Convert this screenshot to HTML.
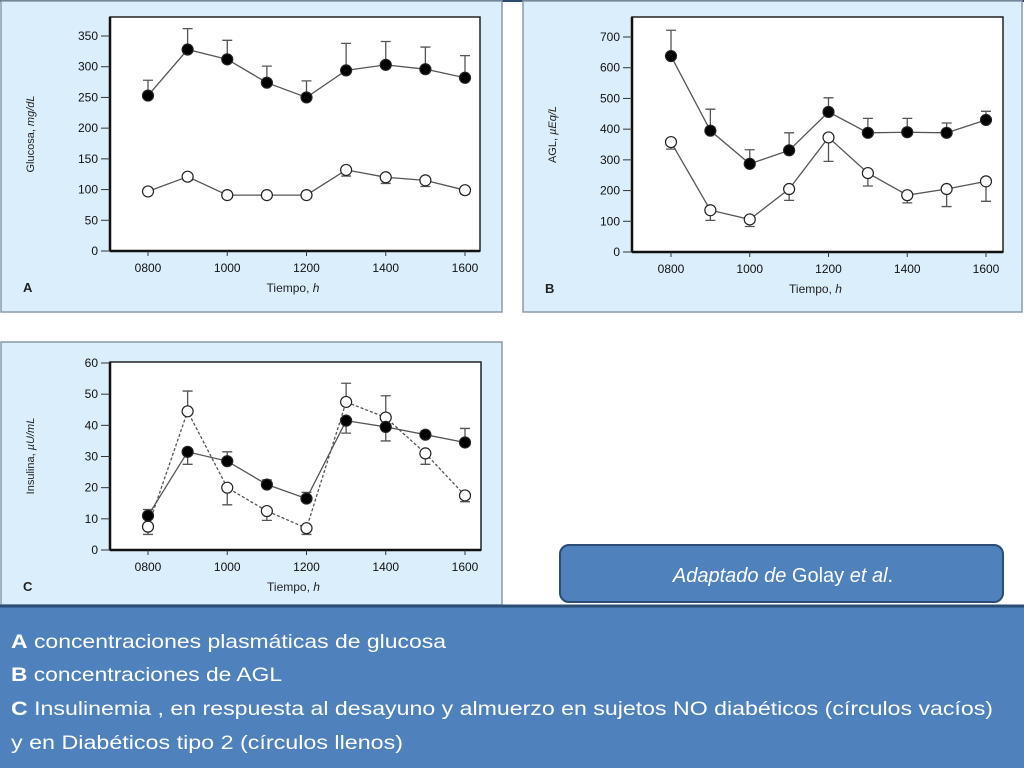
<!DOCTYPE html>
<html><head><meta charset="utf-8"><style>
html,body{margin:0;padding:0;background:#fff;}
svg{display:block;font-family:"Liberation Sans",sans-serif;}
</style></head><body>
<svg id="root" width="1024" height="768" viewBox="0 0 1024 768">
  <rect x="0" y="0" width="1024" height="768" fill="#ffffff"/>
  <line x1="0" y1="1" x2="1024" y2="1" stroke="#2e4a6e" stroke-width="2"/>
  <g id="panelA"></g>
  <g id="panelB"></g>
  <g id="panelC"></g>

  <g>
    <rect x="560" y="545" width="443" height="57" rx="9" fill="#4f81bd" stroke="#2c4d75" stroke-width="2"/>
    <text x="783" y="582" text-anchor="middle" fill="#fff" font-size="20"><tspan font-style="italic">Adaptado de</tspan> Golay <tspan font-style="italic">et al</tspan>.</text>
  </g>
  <g>
    <rect x="0" y="606" width="1024" height="162" fill="#4f81bd"/>
    <line x1="0" y1="606" x2="1024" y2="606" stroke="#2c4d75" stroke-width="3"/>
    <text x="11" y="648" fill="#fff" font-size="19.5" textLength="435" lengthAdjust="spacingAndGlyphs"><tspan font-weight="bold">A</tspan> concentraciones plasmáticas de glucosa</text>
    <text x="11" y="681" fill="#fff" font-size="19.5" textLength="271" lengthAdjust="spacingAndGlyphs"><tspan font-weight="bold">B</tspan> concentraciones de AGL</text>
    <text x="11" y="715" fill="#fff" font-size="19.5" textLength="982" lengthAdjust="spacingAndGlyphs"><tspan font-weight="bold">C</tspan> Insulinemia , en respuesta al desayuno y almuerzo en sujetos NO diabéticos  (círculos vacíos)</text>
    <text x="11" y="749" fill="#fff" font-size="19.5" textLength="392" lengthAdjust="spacingAndGlyphs">y en Diabéticos tipo 2 (círculos llenos)</text>
  </g>
</svg>
<script>
const hours = [800, 900, 1000, 1100, 1200, 1300, 1400, 1500, 1600];
const xTickLabels = ["0800", "1000", "1200", "1400", "1600"];
const xTickValues = [800, 1000, 1200, 1400, 1600];

const glucoseTicks = [0, 50, 100, 150, 200, 250, 300, 350];
const glucoseDiabetic = [253, 328, 312, 274, 250, 294, 303, 296, 282];
const glucoseDiabeticErr = [278, 362, 343, 301, 277, 338, 341, 332, 318];
const glucoseNormal = [97, 121, 91, 91, 91, 132, 120, 115, 99];
const glucoseNormalErr = [92, 115, 86, 86, 86, 122, 110, 105, 93];

const aglTicks = [0, 100, 200, 300, 400, 500, 600, 700];
const aglDiabetic = [638, 395, 287, 331, 456, 388, 390, 388, 430];
const aglDiabeticErr = [722, 465, 333, 388, 502, 435, 435, 420, 458];
const aglNormal = [358, 136, 106, 205, 373, 257, 185, 205, 230];
const aglNormalErr = [335, 103, 83, 168, 295, 215, 160, 148, 165];

const insulinTicks = [0, 10, 20, 30, 40, 50, 60];
const insulinDiabetic = [11, 31.5, 28.5, 21, 16.5, 41.5, 39.5, 37, 34.5];
const insulinDiabeticErr = [13, 27.5, 31.5, 22.5, 18.5, 37.5, 35, 38, 39];
const insulinNormal = [7.5, 44.5, 20, 12.5, 7, 47.5, 42.5, 31, 17.5];
const insulinNormalErr = [5, 51, 14.5, 9.5, 5, 53.5, 49.5, 27.5, 15.5];

const NS = "http://www.w3.org/2000/svg";
function mk(parent, tag, attrs) {
  const e = document.createElementNS(NS, tag);
  for (const k in attrs) e.setAttribute(k, attrs[k]);
  parent.appendChild(e);
  return e;
}

function drawPanel(g, cfg) {
  const bg = mk(g, "rect", {x: cfg.bx, y: cfg.by, width: cfg.bw, height: cfg.bh, fill: "#dbeefb", stroke: "#8a9aa8", "stroke-width": 1.5});
  
  
  const f = cfg.frame;
  const plot = mk(g, "rect", {x: f.x0, y: f.y0, width: f.x1 - f.x0, height: f.y1 - f.y0, fill: "#fff", stroke: "#222", "stroke-width": 1.5});
  
  
  mk(g, "line", {x1: f.x0, y1: f.y0, x2: f.x0, y2: f.y1, stroke: "#111", "stroke-width": 2.5});
  mk(g, "line", {x1: f.x0, y1: f.y1, x2: f.x1, y2: f.y1, stroke: "#111", "stroke-width": 2.5});
  const xs = v => cfg.xa + (v - 800) / 800 * (cfg.xb - cfg.xa);
  const ys = v => f.y1 - v / cfg.ymax * (f.y1 - cfg.ytop);

  cfg.yticks.forEach(t => {
    const y = ys(t);
    mk(g, "line", {x1: f.x0 - 9, y1: y, x2: f.x0, y2: y, stroke: "#333", "stroke-width": 1});
    const tx = mk(g, "text", {x: f.x0 - 12, y: y + 4, "text-anchor": "end", "font-size": 12, fill: "#111"});
    tx.textContent = t;
    
    
  });
  xTickValues.forEach((t, i) => {
    const x = xs(t);
    mk(g, "line", {x1: x, y1: f.y1, x2: x, y2: f.y1 + 5, stroke: "#333", "stroke-width": 1});
    const tx = mk(g, "text", {x: x, y: f.y1 + 21, "text-anchor": "middle", "font-size": 12, fill: "#111"});
    tx.textContent = xTickLabels[i];
    
    
  });
  const xt = mk(g, "text", {x: (f.x0 + f.x1) / 2 - 2, y: f.y1 + 41, "text-anchor": "middle", "font-size": 12, fill: "#222"});
  xt.innerHTML = 'Tiempo, <tspan font-style="italic">h</tspan>';
  
  
  const cy = (f.y0 + f.y1) / 2;
  const yt = mk(g, "text", {x: cfg.ylx, y: cy, "text-anchor": "middle", "font-size": 11, fill: "#222", transform: `rotate(-90 ${cfg.ylx} ${cy})`});
  yt.innerHTML = cfg.ylabel;
  
  
  const pl = mk(g, "text", {x: cfg.bx + 22, y: f.y1 + 41, "font-size": 13, "font-weight": "bold", fill: "#222"});
  pl.textContent = cfg.letter;
  
  

  cfg.series.forEach(s => {
    const pts = hours.map((h, i) => xs(h) + "," + ys(s.vals[i])).join(" ");
    const line = mk(g, "polyline", {points: pts, fill: "none", stroke: "#555", "stroke-width": 1.3, "stroke-dasharray": s.dash ? "3,2" : "none"});
    
    
    hours.forEach((h, i) => {
      const x = xs(h), y0 = ys(s.vals[i]), y1 = ys(s.err[i]);
      const eb = mk(g, "path", {d: `M${x},${y0}V${y1}M${x - 5},${y1}H${x + 5}`, stroke: "#555", "stroke-width": 1.3, fill: "none"});
      
      
    });
    hours.forEach((h, i) => {
      const c = mk(g, "circle", {cx: xs(h), cy: ys(s.vals[i]), r: 5.5, fill: s.filled ? "#000" : "#fff", stroke: "#222", "stroke-width": 1.2});
      
      
    });
  });
}

drawPanel(document.getElementById("panelA"), {
  bx: 1, by: 1, bw: 501, bh: 311, letter: "A",
  frame: {x0: 110, y0: 17, x1: 480, y1: 251}, ytop: 36, ymax: 350, xa: 148, xb: 465,
  yticks: glucoseTicks, ylx: 34, ylabel: 'Glucosa, <tspan font-style="italic">mg/dL</tspan>',
  series: [
    {name: "glucose-diabetic", vals: glucoseDiabetic, err: glucoseDiabeticErr, filled: true},
    {name: "glucose-normal", vals: glucoseNormal, err: glucoseNormalErr, filled: false}
  ]
});
drawPanel(document.getElementById("panelB"), {
  bx: 523, by: 1, bw: 499, bh: 311, letter: "B",
  frame: {x0: 632, y0: 17, x1: 1003, y1: 252}, ytop: 37, ymax: 700, xa: 671, xb: 986,
  yticks: aglTicks, ylx: 556, ylabel: 'AGL, <tspan font-style="italic">µEq/L</tspan>',
  series: [
    {name: "agl-diabetic", vals: aglDiabetic, err: aglDiabeticErr, filled: true},
    {name: "agl-normal", vals: aglNormal, err: aglNormalErr, filled: false}
  ]
});
drawPanel(document.getElementById("panelC"), {
  bx: 1, by: 342, bw: 501, bh: 263, letter: "C",
  frame: {x0: 110, y0: 362, x1: 481, y1: 550}, ytop: 363, ymax: 60, xa: 148, xb: 465,
  yticks: insulinTicks, ylx: 34, ylabel: 'Insulina, <tspan font-style="italic">µU/mL</tspan>',
  series: [
    {name: "insulin-normal", vals: insulinNormal, err: insulinNormalErr, filled: false, dash: true},
    {name: "insulin-diabetic", vals: insulinDiabetic, err: insulinDiabeticErr, filled: true}
  ]
});
</script>
</body></html>
